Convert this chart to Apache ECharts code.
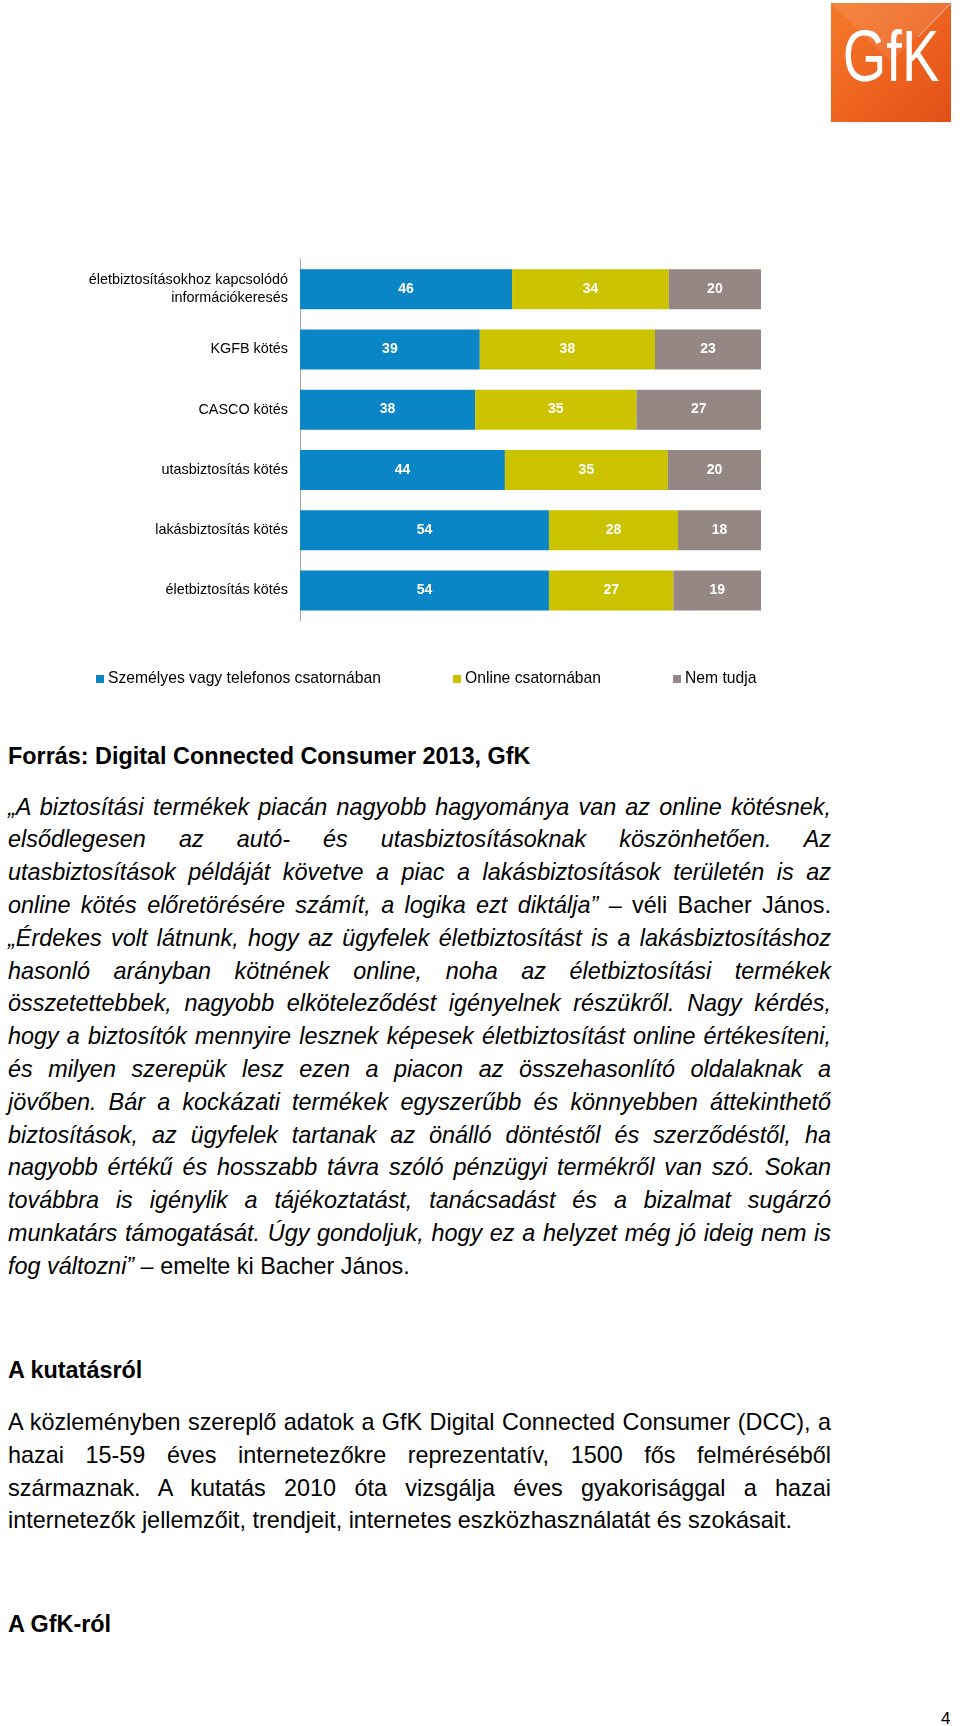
<!DOCTYPE html>
<html><head><meta charset="utf-8">
<script src="https://cdn.jsdelivr.net/npm/echarts@6/dist/echarts.min.js"></script>
<style>
html,body{margin:0;padding:0;background:#fff;}
#page{position:relative;width:960px;height:1726px;overflow:hidden;}
#chart{position:absolute;left:0;top:0;width:960px;height:720px;}
.txt{position:absolute;left:8px;width:823px;font-family:"Liberation Sans",Arial,sans-serif;font-size:23.4px;color:#000;}
.ln{height:32.8px;line-height:32.8px;white-space:nowrap;text-align:justify;text-align-last:justify;}
.ln.last{text-align-last:left;}
.it{font-style:italic;}
.hd{position:absolute;left:8px;font-family:"Liberation Sans",Arial,sans-serif;font-weight:bold;font-size:23.4px;line-height:32px;height:32px;white-space:nowrap;}
</style></head>
<body><div id="page">
<div id="chart"></div>
<div class="hd" style="top:740px;">Forrás: Digital Connected Consumer 2013, GfK</div>
<div class="txt" style="top:790.6px;">
<div class="ln it">„A biztosítási termékek piacán nagyobb hagyománya van az online kötésnek,</div>
<div class="ln it">elsődlegesen az autó- és utasbiztosításoknak köszönhetően. Az</div>
<div class="ln it">utasbiztosítások példáját követve a piac a lakásbiztosítások területén is az</div>
<div class="ln"><span class="it">online kötés előretörésére számít, a logika ezt diktálja”</span> – véli Bacher János.</div>
<div class="ln it">„Érdekes volt látnunk, hogy az ügyfelek életbiztosítást is a lakásbiztosításhoz</div>
<div class="ln it">hasonló arányban kötnének online, noha az életbiztosítási termékek</div>
<div class="ln it">összetettebbek, nagyobb elköteleződést igényelnek részükről. Nagy kérdés,</div>
<div class="ln it">hogy a biztosítók mennyire lesznek képesek életbiztosítást online értékesíteni,</div>
<div class="ln it">és milyen szerepük lesz ezen a piacon az összehasonlító oldalaknak a</div>
<div class="ln it">jövőben. Bár a kockázati termékek egyszerűbb és könnyebben áttekinthető</div>
<div class="ln it">biztosítások, az ügyfelek tartanak az önálló döntéstől és szerződéstől, ha</div>
<div class="ln it">nagyobb értékű és hosszabb távra szóló pénzügyi termékről van szó. Sokan</div>
<div class="ln it">továbbra is igénylik a tájékoztatást, tanácsadást és a bizalmat sugárzó</div>
<div class="ln it">munkatárs támogatását. Úgy gondoljuk, hogy ez a helyzet még jó ideig nem is</div>
<div class="ln last"><span class="it">fog változni”</span> – emelte ki Bacher János.</div>
</div>
<div class="hd" style="top:1353.5px;">A kutatásról</div>
<div class="txt" style="top:1406px;">
<div class="ln">A közleményben szereplő adatok a GfK Digital Connected Consumer (DCC), a</div>
<div class="ln">hazai 15-59 éves internetezőkre reprezentatív, 1500 fős felméréséből</div>
<div class="ln">származnak. A kutatás 2010 óta vizsgálja éves gyakorisággal a hazai</div>
<div class="ln last">internetezők jellemzőit, trendjeit, internetes eszközhasználatát és szokásait.</div>
</div>
<div class="hd" style="top:1608px;">A GfK-ról</div>
<div class="hd" style="top:1703px;left:941px;font-weight:normal;font-size:17px;">4</div>
</div>
<script>
// fit over-long lines into the text column
document.querySelectorAll('.ln').forEach(el=>{
  const prev = el.style.textAlignLast;
  el.style.textAlignLast = 'left';
  const r = document.createRange(); r.selectNodeContents(el);
  const w = r.getBoundingClientRect().width;
  const avail = el.clientWidth;
  if (w > avail) {
    const n = el.textContent.length;
    el.style.letterSpacing = (-(w - avail + 1) / n) + 'px';
  }
  el.style.textAlignLast = prev;
});

const categories = ['életbiztosításokhoz kapcsolódó\ninformációkeresés','KGFB kötés','CASCO kötés','utasbiztosítás kötés','lakásbiztosítás kötés','életbiztosítás kötés'];
const seriesNames = ['Személyes vagy telefonos csatornában','Online csatornában','Nem tudja'];
const personal = [46,39,38,44,54,54];
const online = [34,38,35,35,28,27];
const unknown = [20,23,27,20,18,19];
const colors = ['#0A85C6','#CCC300','#958884'];

const raw = [personal, online, unknown];
const totals = categories.map((c,i)=>personal[i]+online[i]+unknown[i]);

const chart = echarts.init(document.getElementById('chart'), null, {renderer:'canvas'});
const lblFont = '"Liberation Sans", Arial, sans-serif';
chart.setOption({
  animation:false,
  textStyle:{fontFamily:lblFont},
  grid:{left:300,top:259,width:461,height:361.5,containLabel:false},
  xAxis:{type:'value',min:0,max:100,show:false},
  yAxis:{type:'category',data:categories,inverse:true,
    axisLine:{show:true,lineStyle:{color:'#A6A6A6',width:1}},
    axisTick:{show:false},
    axisLabel:{color:'#000',fontSize:14.4,margin:12,lineHeight:18,align:'right',fontFamily:lblFont}},
  legend: seriesNames.map((n,i)=>({
    data:[n], top:666, left:[91,448,668][i], itemWidth:8, itemHeight:8, itemGap:4,
    icon:'rect', textStyle:{color:'#000',fontSize:15.7,fontFamily:lblFont,padding:[0,0,0,-1]}, selectedMode:false
  })),
  series: seriesNames.map((n,k)=>({
    name:n, type:'bar', stack:'s', barWidth:40,
    itemStyle:{color:colors[k]},
    data: raw[k].map((v,i)=>({value: v/totals[i]*100, raw:v})),
    label:{show:true,position:'inside',color:'#fff',fontWeight:'bold',fontSize:14,fontFamily:lblFont,
      formatter:p=>String(p.data.raw)}
  })),
  graphic:[
    {type:'rect',shape:{x:831,y:3,width:120,height:119},
     style:{fill:new echarts.graphic.LinearGradient(0,0,1,1,[{offset:0,color:'#F47A2A'},{offset:0.5,color:'#EE6420'},{offset:1,color:'#E24E17'}])}},
    {type:'polygon',shape:{points:[[831,3],[951,3],[891,62]]},style:{fill:'rgba(255,255,255,0.10)'}},
    {type:'line',shape:{x1:918,y1:37,x2:950,y2:4},style:{stroke:'rgba(255,255,255,0.7)',lineWidth:1}},
    {type:'text',x:891,y:61,scaleY:1.3,style:{text:'GfK',fill:'#fff',font:'normal 56px "Liberation Sans", Arial, sans-serif',align:'center',verticalAlign:'middle'}}
  ]
});
</script>
</body></html>
